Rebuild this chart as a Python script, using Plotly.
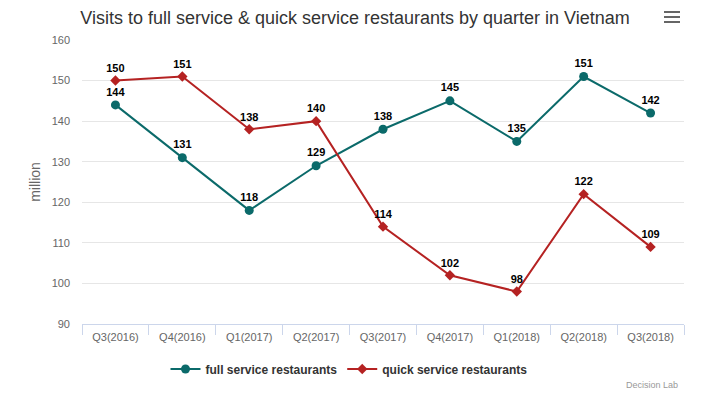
import plotly.graph_objects as go

categories = ["Q3(2016)", "Q4(2016)", "Q1(2017)", "Q2(2017)", "Q3(2017)",
              "Q4(2017)", "Q1(2018)", "Q2(2018)", "Q3(2018)"]
full_service = [144, 131, 118, 129, 138, 145, 135, 151, 142]
quick_service = [150, 151, 138, 140, 114, 102, 98, 122, 109]
y_ticks = [90, 100, 110, 120, 130, 140, 150, 160]

FONT = "Liberation Sans, Arial, sans-serif"
teal = "#0b6a6a"
red = "#b52222"

# page body has an 8px default margin; figure is sized so the visible frame is 712x399
W, H = 704, 391
OFF = 8

fig = go.Figure()
fig.add_trace(go.Scatter(
    x=categories, y=full_service, name="full service restaurants",
    mode="lines+markers+text", text=[str(v) for v in full_service],
    textposition="top center",
    textfont=dict(family=FONT, size=11, color="#000000", weight="bold"),
    line=dict(color=teal, width=2),
    marker=dict(symbol="circle", size=9, color=teal),
))
fig.add_trace(go.Scatter(
    x=categories, y=quick_service, name="quick service restaurants",
    mode="lines+markers+text", text=[str(v) for v in quick_service],
    textposition="top center",
    textfont=dict(family=FONT, size=11, color="#000000", weight="bold"),
    line=dict(color=red, width=2),
    marker=dict(symbol="diamond", size=8, color=red),
))

ml, mt, mr, mb = 82 - OFF, 40 - OFF, 28, 75
plot_h = H - mt - mb
plot_w = W - ml - mr

fig.update_layout(
    width=W, height=H,
    paper_bgcolor="white", plot_bgcolor="white",
    margin=dict(l=ml, r=mr, t=mt, b=mb, autoexpand=False),
    font=dict(family=FONT, color="#666666"),
    title=dict(text="Visits to full service & quick service restaurants by quarter in Vietnam",
               x=(355 - OFF) / W, xanchor="center",
               yref="container", y=1 - 3 / H, yanchor="top", pad=dict(t=0),
               font=dict(family=FONT, size=18, color="#333333")),
    showlegend=True,
    legend=dict(orientation="h", x=(349 - OFF) / W, xref="container", xanchor="center",
                yref="container", y=1 - (369 - OFF) / H, yanchor="middle",
                font=dict(family=FONT, size=12, color="#333333", weight="bold"),
                itemwidth=30),
    xaxis=dict(type="category", showgrid=False, showline=True, linecolor="#ccd6eb",
               linewidth=1, ticks="outside", tickson="boundaries", tickcolor="#ccd6eb",
               ticklen=10, ticklabelstandoff=3,
               tickfont=dict(family=FONT, size=11, color="#666666"),
               range=[-0.5, len(categories) - 0.5]),
    yaxis=dict(range=[90, 160], tickvals=y_ticks, showgrid=True, gridcolor="#e6e6e6",
               zeroline=False, showline=False, ticks="", ticklabelstandoff=11,
               tickfont=dict(family=FONT, size=11, color="#666666"),
               title=dict(text="million", font=dict(family=FONT, size=14, color="#666666"),
                          standoff=7)),
)

# credits
fig.add_annotation(text="Decision Lab", xref="paper", yref="paper",
                   x=(680 - 82) / plot_w, xanchor="right", y=(324 - 385) / plot_h, yanchor="middle",
                   showarrow=False, font=dict(family=FONT, size=9, color="#999999"))

# hamburger menu icon
for i in range(3):
    fig.add_shape(type="rect", xref="paper", yref="paper",
                  x0=(664 - 82) / plot_w, x1=(680 - 82) / plot_w,
                  y0=(324 - (11 + 5 * i)) / plot_h, y1=(324 - (13 + 5 * i)) / plot_h,
                  line=dict(width=0), fillcolor="#666666")

fig.write_html("out.html")
